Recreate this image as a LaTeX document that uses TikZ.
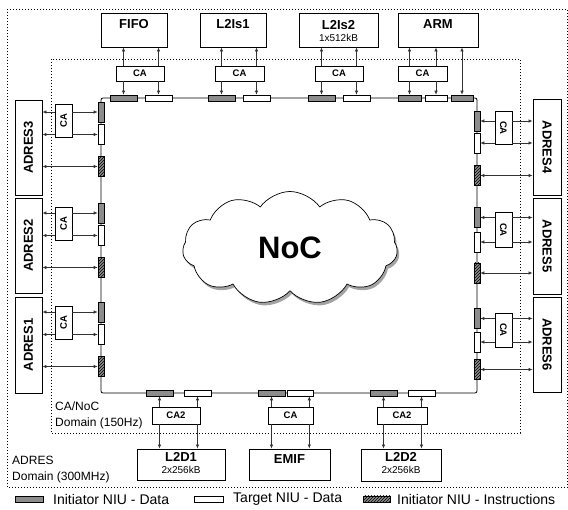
\documentclass[tikz,border=0pt]{standalone}
\usepackage{fontspec}
\setmainfont{Liberation Sans}
\usepackage{graphicx}
\usetikzlibrary{shapes.symbols,shadows,patterns,arrows.meta}
\begin{document}
\begin{tikzpicture}[x=1pt,y=-1pt,
  modbox/.style={draw, line width=0.9pt, fill=white, inner sep=0pt, font=\bfseries\fontsize{13}{15}\selectfont, align=center},
  topbox/.style={modbox, text height=16pt, text depth=18pt},
  cabox/.style={draw, line width=0.6pt, fill=white, inner sep=0pt, font=\bfseries\fontsize{9.5}{11}\selectfont},
  niud/.style={draw, line width=0.6pt, fill=black!45, inner sep=0pt},
  niuw/.style={draw, line width=0.6pt, fill=white, inner sep=0pt},
  nius/.style={draw, line width=0.6pt, fill=black!45, inner sep=0pt, postaction={pattern=north east lines}},
  hn/.style={minimum width=27pt, minimum height=6pt},
  vn/.style={minimum width=6pt, minimum height=20pt},
  conn/.style={draw=black!80, line width=0.7pt, -{Latex[length=4pt,width=3.5pt]}},
  bconn/.style={draw=black!80, line width=0.7pt, {Latex[length=4pt,width=3.5pt]}-{Latex[length=4pt,width=3.5pt]}},
  domrect/.style={draw, line width=0.8pt, dash pattern=on 0.8pt off 2.2pt},
  lbl/.style={font=\fontsize{12}{16}\selectfont, inner sep=0pt, align=left},
  legtext/.style={font=\fontsize{14}{16}\selectfont, inner sep=0pt, anchor=west},
  subtxt/.style={}
]
\useasboundingbox (0,0) rectangle (568,510);
% domains
\draw[domrect] (7,9) rectangle (567.5,487);
\draw[domrect] (51,59) rectangle (520,433);
\node[lbl, anchor=north west] (cadom) at (55,402) {CA/NoC\\Domain (150Hz)};
\node[lbl, anchor=north west] (adom) at (12,456) {ADRES\\Domain (300MHz)};

% ring
\node[draw, line width=0.8pt, minimum width=376pt, minimum height=295pt, rounded corners=2pt, inner sep=0pt] (ring) at (289,245.5) {};

% cloud
\node[cloud, cloud puffs=11, cloud puff arc=110, aspect=1.9, draw, line width=0.7pt, fill=white,
      minimum width=215pt, minimum height=113pt, inner sep=0pt,
      drop shadow={shadow xshift=2pt, shadow yshift=-3pt, fill=black!60, opacity=0.6},
      font=\bfseries\fontsize{31}{36}\selectfont] (noc) at (290,248) {NoC};

% top modules
\node[topbox, minimum width=66pt] (fifo) at (134,30) {FIFO};
\node[topbox, minimum width=66pt] (l2is1) at (233,30) {L2Is1};
\node[modbox, minimum width=79pt, text height=29pt, text depth=5pt] (l2is2) at (338.5,30) {L2Is2\\[-3pt]{\mdseries\fontsize{10}{11}\selectfont 1x512kB}};
\node[topbox, minimum width=80pt] (arm) at (438,30) {ARM};

% top CAs
\node[cabox, minimum width=48pt, minimum height=15pt] (cafifo) at (140,73.5) {CA};
\node[cabox, minimum width=49pt, minimum height=15pt] (cal2is1) at (239.5,73.5) {CA};
\node[cabox, minimum width=48pt, minimum height=15pt] (cal2is2) at (339,73.5) {CA};
\node[cabox, minimum width=49pt, minimum height=15pt] (caarm) at (422.5,73.5) {CA};

% top NIUs
\node[niud, hn] (td1) at (123.5,98) {};
\node[niuw, hn] (tw1) at (158.5,98) {};
\node[niud, hn] (td2) at (221.5,98) {};
\node[niuw, hn] (tw2) at (256.5,98) {};
\node[niud, hn] (td3) at (321.5,98) {};
\node[niuw, hn] (tw3) at (356.5,98) {};
\node[niud, hn, minimum width=23pt] (td4) at (409.5,98) {};
\node[niuw, hn, minimum width=22pt] (tw4) at (436,98) {};
\node[niud, hn, minimum width=22pt] (td5) at (462,98) {};

% top connectors
\foreach \ca/\m/\a/\b in {cafifo/fifo/td1/tw1, cal2is1/l2is1/td2/tw2, cal2is2/l2is2/td3/tw3, caarm/arm/td4/tw4}{
  \draw[conn] (\ca.north -| \a) -- (\m.south -| \a);
  \draw[conn] (\ca.north -| \b) -- (\m.south -| \b);
  \draw[conn] (\ca.south -| \a) -- (\a.north);
  \draw[conn] (\ca.south -| \b) -- (\b.north);
}
\draw[bconn] (arm.south -| td5) -- (td5.north);

% left modules
\node[modbox, minimum width=27pt, minimum height=95pt] (adres3) at (28.5,147.5) {\rotatebox{90}{ADRES3}};
\node[modbox, minimum width=27pt, minimum height=95pt] (adres2) at (28.5,245.5) {\rotatebox{90}{ADRES2}};
\node[modbox, minimum width=27pt, minimum height=96pt] (adres1) at (28.5,345) {\rotatebox{90}{ADRES1}};
\node[cabox, minimum width=17pt, minimum height=33pt] (ca3) at (63.5,120.5) {\rotatebox{90}{CA}};
\node[cabox, minimum width=17pt, minimum height=33pt] (ca2) at (63.5,224) {\rotatebox{90}{CA}};
\node[cabox, minimum width=17pt, minimum height=33pt] (ca1) at (63.5,322.5) {\rotatebox{90}{CA}};
\node[niud, vn] (ld3) at (101,112) {};
\node[niuw, vn] (lw3) at (101,134.5) {};
\node[nius, vn] (ls3) at (101,166.5) {};
\node[niud, vn] (ld2) at (101,213) {};
\node[niuw, vn] (lw2) at (101,235.5) {};
\node[nius, vn] (ls2) at (101,267.5) {};
\node[niud, vn] (ld1) at (101,312) {};
\node[niuw, vn] (lw1) at (101,334.5) {};
\node[nius, vn] (ls1) at (101,366.5) {};
\foreach \m/\ca/\d/\w/\s in {adres3/ca3/ld3/lw3/ls3, adres2/ca2/ld2/lw2/ls2, adres1/ca1/ld1/lw1/ls1}{
  \draw[conn] (\ca.west |- \d) -- (\m.east |- \d);
  \draw[conn] (\ca.east |- \d) -- (\d.west);
  \draw[conn] (\ca.west |- \w) -- (\m.east |- \w);
  \draw[conn] (\ca.east |- \w) -- (\w.west);
  \draw[bconn] (\m.east |- \s) -- (\s.west);
}

% right modules
\node[modbox, minimum width=28pt, minimum height=96pt] (adres4) at (547,147) {\rotatebox{-90}{ADRES4}};
\node[modbox, minimum width=28pt, minimum height=96pt] (adres5) at (547,246) {\rotatebox{-90}{ADRES5}};
\node[modbox, minimum width=28pt, minimum height=95pt] (adres6) at (547,344.5) {\rotatebox{-90}{ADRES6}};
\node[cabox, minimum width=17pt, minimum height=33pt] (ca4) at (503.5,128) {\rotatebox{-90}{CA}};
\node[cabox, minimum width=17pt, minimum height=35pt] (ca5) at (503.5,230) {\rotatebox{-90}{CA}};
\node[cabox, minimum width=17pt, minimum height=34pt] (ca6) at (503.5,330) {\rotatebox{-90}{CA}};
\node[niud, vn] (rd4) at (477,121) {};
\node[niuw, vn] (rw4) at (477,143) {};
\node[nius, vn] (rs4) at (477,175.5) {};
\node[niud, vn] (rd5) at (477,217.5) {};
\node[niuw, vn] (rw5) at (477,242) {};
\node[nius, vn] (rs5) at (477,273) {};
\node[niud, vn] (rd6) at (477,318.5) {};
\node[niuw, vn] (rw6) at (477,342) {};
\node[nius, vn] (rs6) at (477,369.5) {};
\foreach \m/\ca/\d/\w/\s in {adres4/ca4/rd4/rw4/rs4, adres5/ca5/rd5/rw5/rs5, adres6/ca6/rd6/rw6/rs6}{
  \draw[conn] (\ca.east |- \d) -- (\m.west |- \d);
  \draw[conn] (\ca.west |- \d) -- (\d.east);
  \draw[conn] (\ca.east |- \w) -- (\m.west |- \w);
  \draw[conn] (\ca.west |- \w) -- (\w.east);
  \draw[bconn] (\m.west |- \s) -- (\s.east);
}

% bottom modules
\node[modbox, minimum width=88pt, text height=25pt, text depth=6pt] (l2d1) at (181,464.5) {L2D1\\[-3pt]{\mdseries\fontsize{10}{11}\selectfont 2x256kB}};
\node[modbox, minimum width=81pt, text height=15pt, text depth=16pt] (emif) at (289.5,464.5) {EMIF};
\node[modbox, minimum width=80pt, text height=25pt, text depth=7pt] (l2d2) at (401,465) {L2D2\\[-3pt]{\mdseries\fontsize{10}{11}\selectfont 2x256kB}};
\node[cabox, minimum width=48pt, minimum height=17pt] (cal2d1) at (176,415.5) {CA2};
\node[cabox, minimum width=45pt, minimum height=17pt] (caemif) at (290.5,415.5) {CA};
\node[cabox, minimum width=50pt, minimum height=17pt] (cal2d2) at (402,415.5) {CA2};
\node[niud, hn] (bd1) at (159.5,393) {};
\node[niuw, hn] (bw1) at (197.5,393) {};
\node[niud, hn] (bd2) at (271.5,393) {};
\node[niuw, hn, minimum width=26pt] (bw2) at (300,393) {};
\node[niud, hn] (bd3) at (383.5,393) {};
\node[niuw, hn] (bw3) at (421.5,393) {};
\foreach \m/\ca/\a/\b in {l2d1/cal2d1/bd1/bw1, l2d2/cal2d2/bd3/bw3}{
  \draw[conn] (\ca.north -| \a) -- (\a.south);
  \draw[conn] (\ca.north -| \b) -- (\b.south);
  \draw[conn] (\ca.south -| \a) -- (\m.north -| \a);
  \draw[conn] (\ca.south -| \b) -- (\m.north -| \b);
}
\draw[conn] (caemif.north -| bd2) -- (bd2.south);
\draw[conn] (caemif.south -| bd2) -- (emif.north -| bd2);
\draw[conn] ([xshift=-4pt]caemif.north east) -- ([xshift=-4pt]caemif.north east |- bw2.south);
\draw[conn] ([xshift=-4pt]caemif.south east) -- ([xshift=-4pt]caemif.south east |- emif.north);

% legend
\node[niud, minimum width=28pt, minimum height=6pt] (legd) at (29,499) {};
\node[legtext] (legdt) at (53,499) {Initiator NIU - Data};
\node[niuw, minimum width=29pt, minimum height=6pt] (legw) at (208.5,499) {};
\node[legtext] (legwt) at (233,499) {Target NIU - Data};
\node[nius, minimum width=27pt, minimum height=6pt] (legs) at (376.5,499) {};
\node[legtext] (legst) at (397,499) {Initiator NIU - Instructions};
\end{tikzpicture}
\end{document}
